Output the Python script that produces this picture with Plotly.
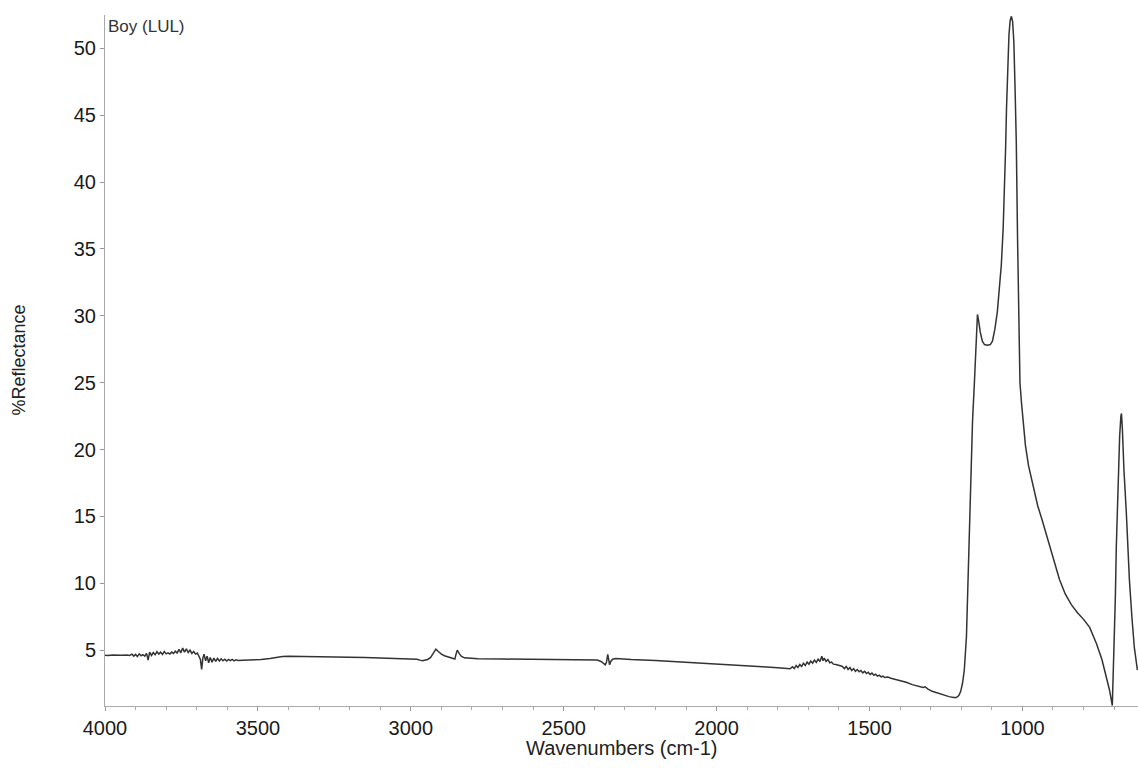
import plotly.graph_objects as go

# Wavenumbers (cm-1) and % reflectance
wavenumber = [
    4000, 3990, 3975, 3960, 3945, 3930, 3920, 3912, 3906, 3900, 3894, 3888, 3882, 3876, 3870, 3864,
    3859, 3854, 3848, 3842, 3836, 3830, 3824, 3818, 3812, 3806, 3800, 3794, 3788, 3782, 3776, 3770,
    3764, 3758, 3752, 3746, 3740, 3734, 3728, 3722, 3716, 3710, 3704, 3698, 3692, 3688, 3684, 3680,
    3676, 3671, 3666, 3661, 3656, 3650, 3644, 3638, 3632, 3626, 3620, 3614, 3608, 3602, 3596, 3590,
    3584, 3578, 3572, 3565, 3550, 3520, 3490, 3460, 3440, 3420, 3400, 3350, 3300, 3250, 3200, 3150,
    3100, 3050, 3000, 2980, 2970, 2962, 2955, 2945, 2935, 2925, 2918, 2910, 2900, 2890, 2875, 2862,
    2856, 2852, 2848, 2842, 2835, 2825, 2810, 2780, 2700, 2600, 2500, 2420, 2390, 2378, 2370, 2364,
    2360, 2356, 2353, 2350, 2346, 2340, 2330, 2310, 2280, 2200, 2120, 2050, 2000, 1950, 1900, 1850,
    1800, 1770, 1760, 1752, 1746, 1740, 1734, 1728, 1722, 1716, 1710, 1704, 1698, 1692, 1686, 1680,
    1674, 1668, 1662, 1656, 1652, 1648, 1642, 1636, 1630, 1624, 1618, 1610, 1600, 1590, 1582, 1576,
    1570, 1564, 1558, 1552, 1546, 1540, 1534, 1528, 1522, 1516, 1510, 1504, 1498, 1492, 1486, 1480,
    1474, 1468, 1462, 1456, 1450, 1440, 1430, 1420, 1402, 1380, 1360, 1340, 1325, 1318, 1310, 1295,
    1270, 1240, 1225, 1216, 1208, 1202, 1196, 1190, 1183, 1178, 1173, 1168, 1163, 1157, 1153, 1150,
    1147, 1143, 1138, 1131, 1124, 1114, 1105, 1098, 1090, 1082, 1075, 1069, 1063, 1059, 1055, 1052,
    1048, 1044, 1040, 1036, 1032, 1028, 1024, 1020, 1016, 1012, 1008, 1003, 997, 990, 980, 967,
    950, 935, 922, 900, 879, 860, 840, 820, 800, 780, 758, 740, 725, 715, 706, 700,
    696, 693, 688, 682, 678, 676, 673, 668, 660, 650, 642, 634, 624,
]
reflectance = [
    4.62, 4.60, 4.63, 4.60, 4.62, 4.64, 4.60, 4.70, 4.55, 4.68, 4.52, 4.72, 4.58, 4.66, 4.55, 4.75,
    4.25, 4.85, 4.60, 4.82, 4.65, 4.88, 4.70, 4.85, 4.68, 4.90, 4.72, 4.80, 4.70, 4.85, 4.75, 4.92,
    4.78, 5.05, 4.80, 5.15, 4.85, 5.10, 4.82, 5.00, 4.75, 4.90, 4.70, 4.78, 4.55, 4.30, 3.55, 4.40,
    4.70, 4.20, 4.55, 4.05, 4.45, 4.10, 4.40, 4.15, 4.38, 4.18, 4.35, 4.20, 4.32, 4.18, 4.30, 4.22,
    4.30, 4.20, 4.28, 4.22, 4.25, 4.26, 4.30, 4.38, 4.48, 4.53, 4.55, 4.54, 4.52, 4.50, 4.47, 4.44,
    4.42, 4.38, 4.35, 4.32, 4.25, 4.20, 4.24, 4.30, 4.45, 4.85, 5.07, 4.90, 4.70, 4.58, 4.45, 4.38,
    4.33, 4.70, 5.00, 4.75, 4.55, 4.42, 4.38, 4.35, 4.33, 4.31, 4.30, 4.28, 4.26, 4.15, 3.98, 3.90,
    4.10, 4.68, 4.30, 3.90, 4.15, 4.32, 4.38, 4.33, 4.30, 4.22, 4.12, 4.05, 3.98, 3.92, 3.85, 3.75,
    3.68, 3.58, 3.60, 3.75, 3.62, 3.85, 3.70, 3.92, 3.78, 4.02, 3.85, 4.10, 3.95, 4.18, 4.02, 4.25,
    4.08, 4.32, 4.15, 4.55, 4.20, 4.40, 4.15, 4.30, 4.05, 4.10, 3.95, 3.92, 3.85, 3.80, 3.62, 3.78,
    3.55, 3.70, 3.48, 3.62, 3.42, 3.55, 3.38, 3.48, 3.30, 3.42, 3.25, 3.35, 3.18, 3.28, 3.12, 3.20,
    3.05, 3.12, 3.00, 3.05, 2.95, 2.98, 2.90, 2.85, 2.76, 2.60, 2.42, 2.28, 2.20, 2.26, 2.10, 1.92,
    1.72, 1.52, 1.46, 1.45, 1.60, 1.90, 2.50, 3.50, 6.00, 10.0, 15.5, 19.5, 22.2, 25.0, 27.6, 29.3,
    30.1, 29.6, 28.8, 28.1, 27.85, 27.8, 27.85, 28.1, 29.0, 30.3, 32.0, 33.8, 36.5, 39.0, 42.5, 45.5,
    48.8, 51.0, 52.1, 52.4, 52.0, 50.5, 47.0, 43.0, 36.0, 29.0, 25.0, 23.5, 21.8, 20.3, 18.8, 17.4,
    15.8, 14.7, 13.7, 12.0, 10.3, 9.2, 8.4, 7.8, 7.3, 6.7, 5.5, 4.3, 3.0, 2.0, 0.85, 5.0,
    9.0, 12.7, 17.0, 21.0, 22.5, 22.7, 21.5, 18.5, 15.2, 10.2, 7.5, 5.2, 3.5,
]

x_ticks = [4000, 3500, 3000, 2500, 2000, 1500, 1000]
y_ticks = [5, 10, 15, 20, 25, 30, 35, 40, 45, 50]
sample_label = "Boy (LUL)"
x_title = "Wavenumbers (cm-1)"
y_title = "%Reflectance"

FONT = "Liberation Sans, Arial, sans-serif"

fig = go.Figure()
fig.add_trace(go.Scatter(
    x=wavenumber, y=reflectance, mode="lines",
    line=dict(color="#333333", width=1.5),
    showlegend=False, hoverinfo="skip", cliponaxis=True,
))

fig.update_layout(
    width=1138, height=768,
    margin=dict(l=105, r=0, t=15, b=62, autoexpand=False),
    paper_bgcolor="white", plot_bgcolor="white",
    font=dict(family=FONT, color="#222222"),
    showlegend=False,
)
fig.update_xaxes(
    range=[4000, 622], autorange=False, automargin=False,
    tickvals=x_ticks, ticktext=[str(v) for v in x_ticks],
    ticks="outside", ticklen=4, tickcolor="#999999", tickwidth=1,
    minor=dict(dtick=100, ticks="outside", ticklen=3, tickcolor="#aaaaaa", tick0=0),
    showline=True, linecolor="#aaaaaa", linewidth=1,
    showgrid=False, zeroline=False,
    tickfont=dict(size=20, color="#1a1a1a"),
)
fig.update_yaxes(
    range=[0.82, 52.5], autorange=False, automargin=False,
    tickvals=y_ticks, ticktext=[str(v) for v in y_ticks],
    ticks="outside", ticklen=4, tickcolor="#999999", tickwidth=1,
    showline=True, linecolor="#aaaaaa", linewidth=1,
    showgrid=False, zeroline=False,
    tickfont=dict(size=20, color="#1a1a1a"),
)
fig.add_annotation(
    x=0, y=1, xref="paper", yref="paper", xanchor="left", yanchor="top",
    xshift=1, yshift=0, text=sample_label, showarrow=False,
    font=dict(family=FONT, size=17, color="#333333"),
)
fig.add_annotation(
    x=0.5, y=0, xref="paper", yref="paper", xanchor="center", yanchor="middle",
    yshift=-42, text=x_title, showarrow=False,
    font=dict(family=FONT, size=20, color="#222222"),
)
fig.add_annotation(
    x=0, y=0.5, xref="paper", yref="paper", xanchor="center", yanchor="middle",
    xshift=-87, text=y_title, showarrow=False, textangle=-90,
    font=dict(family=FONT, size=18, color="#222222"),
)

# Remove the default page margin so the figure fills the window exactly
fig.write_html(
    "out.html",
    config={"displayModeBar": False, "staticPlot": True},
    post_script="document.body.style.margin='0';document.body.style.overflow='hidden';",
)
